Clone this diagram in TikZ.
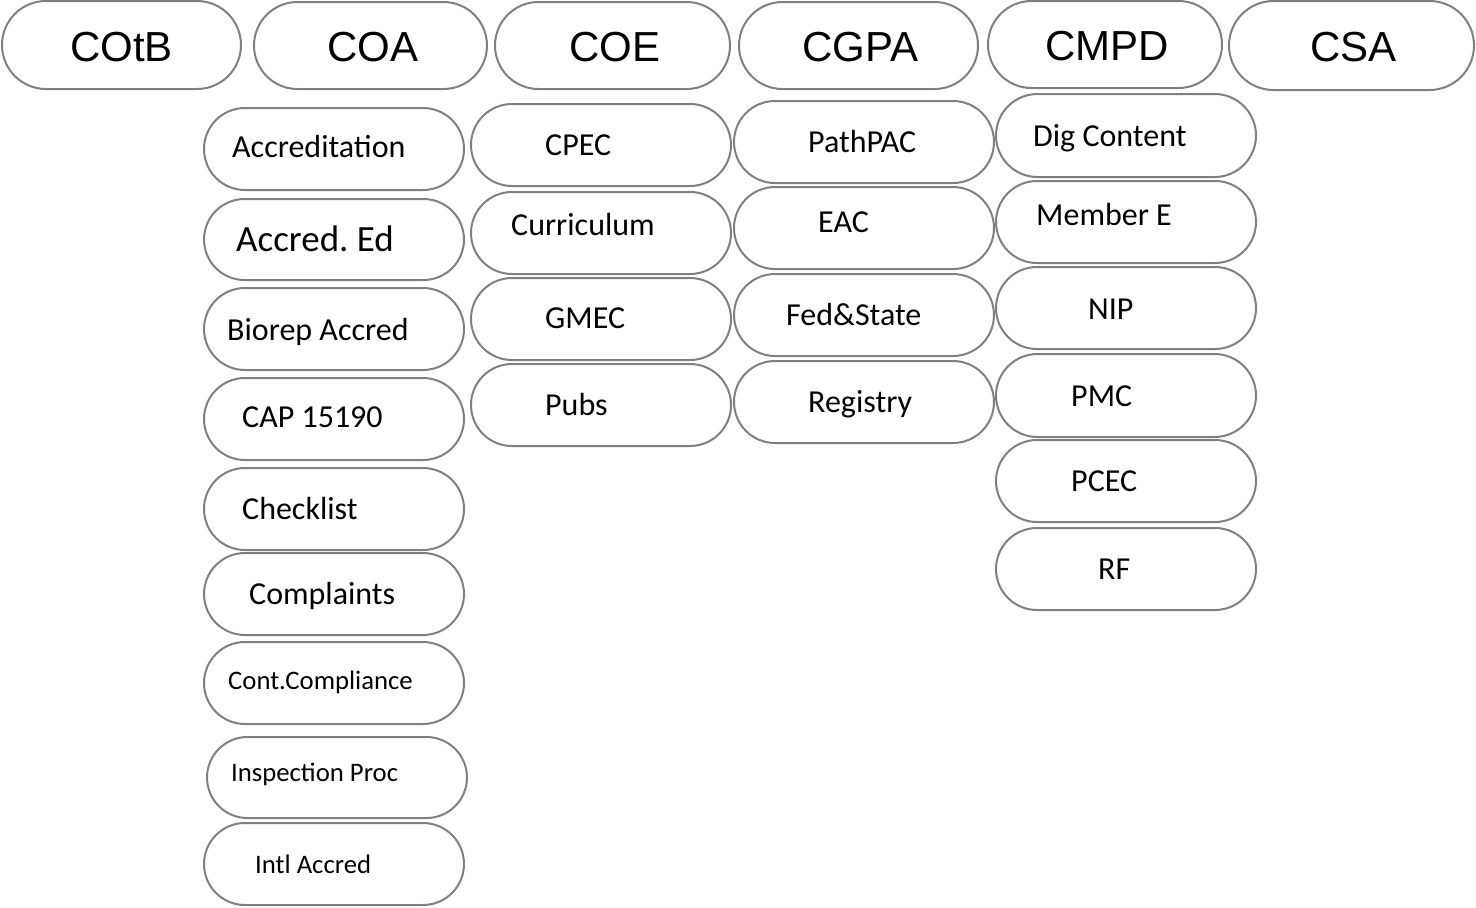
\documentclass[tikz,border=0pt]{standalone}
\usepackage{fontspec}
\usetikzlibrary{shapes.misc}
\setmainfont{Carlito}
\newfontfamily\headfont{Liberation Sans}
\frenchspacing
\begin{document}
\begin{tikzpicture}[x=1pt,y=-1pt,
  pill/.style={rounded rectangle, draw=black!50, line width=2pt, fill=white,
    inner sep=0pt, outer sep=0pt},
  headtxt/.style={anchor=west, inner sep=0pt, text height=30pt, text depth=0pt,
    font=\headfont\fontsize{42}{48}\selectfont},
  itemtxt/.style={anchor=west, inner sep=0pt, text height=20.6pt, text depth=0pt,
    font=\fontsize{32}{38}\selectfont},
  bigtxt/.style={itemtxt, text height=23.8pt, font=\fontsize{37}{42}\selectfont},
  smalltxt/.style={itemtxt, text height=17.2pt, font=\fontsize{26.7}{32}\selectfont}]
\useasboundingbox (0,0) rectangle (1476,908);
% pill box: name, left, top, right, bottom
\newcommand\pillbox[5]{%
  \node[pill, minimum width={(#4-#2)*1pt}, minimum height={(#5-#3)*1pt}]
    (#1) at ({(#2+#4)/2},{(#3+#5)/2}) {};}

% column headers
\pillbox{hcotb}{2}{1}{241}{89}
\pillbox{hcoa}{254}{2}{487}{89}
\pillbox{hcoe}{495}{2}{730}{89}
\pillbox{hcgpa}{739}{2}{978}{89}
\pillbox{hcmpd}{988}{1}{1222}{88}
\pillbox{hcsa}{1229}{1}{1474}{90}
\node[headtxt] (tcotb) at (70,46) {COtB};
\node[headtxt] (tcoa) at (327,46) {COA};
\node[headtxt] (tcoe) at (569,46) {COE};
\node[headtxt] (tcgpa) at (802,46) {CGPA};
\node[headtxt] (tcmpd) at (1045,45) {CMPD};
\node[headtxt] (tcsa) at (1310,46) {CSA};

% COA column
\pillbox{acc}{204}{108}{464}{190}
\pillbox{acced}{204}{199}{464}{280}
\pillbox{biorep}{204}{288}{464}{370}
\pillbox{cap}{204}{378}{464}{460}
\pillbox{check}{204}{468}{464}{550}
\pillbox{compl}{204}{553}{464}{635}
\pillbox{cont}{204}{642}{464}{724}
\pillbox{insp}{207}{737}{467}{818}
\pillbox{intl}{204}{823}{464}{905}
\node[itemtxt] (tacc) at (232,147) {Accreditation};
\node[bigtxt] (tacced) at (236,240) {Accred. Ed};
\node[itemtxt] (tbiorep) at (227,330) {Biorep Accred};
\node[itemtxt] (tcap) at (242,417) {CAP 15190};
\node[itemtxt] (tcheck) at (242,509) {Checklist};
\node[itemtxt] (tcompl) at (249,594) {Complaints};
\node[smalltxt] (tcont) at (228,681) {Cont.Compliance};
\node[smalltxt] (tinsp) at (231,773) {Inspection Proc};
\node[smalltxt] (tintl) at (255,865) {Intl Accred};

% COE column
\pillbox{cpec}{471}{104}{731}{186}
\pillbox{curr}{471}{192}{731}{274}
\pillbox{gmec}{471}{278}{731}{360}
\pillbox{pubs}{471}{364}{731}{446}
\node[itemtxt] (tcpec) at (545,145) {CPEC};
\node[itemtxt] (tcurr) at (511,225) {Curriculum};
\node[itemtxt] (tgmec) at (545,318) {GMEC};
\node[itemtxt] (tpubs) at (545,405) {Pubs};

% CGPA column
\pillbox{pathpac}{734}{101}{994}{183}
\pillbox{eac}{734}{187}{994}{269}
\pillbox{fed}{734}{274}{994}{356}
\pillbox{reg}{734}{361}{994}{443}
\node[itemtxt] (tpathpac) at (808,142) {PathPAC};
\node[itemtxt] (teac) at (818,222) {EAC};
\node[itemtxt] (tfed) at (786,315) {Fed\&State};
\node[itemtxt] (treg) at (808,402) {Registry};

% CMPD column
\pillbox{dig}{996}{94}{1256}{177}
\pillbox{memb}{996}{181}{1256}{263}
\pillbox{nip}{996}{267}{1256}{349}
\pillbox{pmc}{996}{354}{1256}{437}
\pillbox{pcec}{996}{440}{1256}{522}
\pillbox{rf}{996}{528}{1256}{610}
\node[itemtxt] (tdig) at (1033,136) {Dig Content};
\node[itemtxt] (tmemb) at (1036,215) {Member E};
\node[itemtxt] (tnip) at (1088,309) {NIP};
\node[itemtxt] (tpmc) at (1071,396) {PMC};
\node[itemtxt] (tpcec) at (1071,481) {PCEC};
\node[itemtxt] (trf) at (1098,569) {RF};
\end{tikzpicture}
\end{document}
